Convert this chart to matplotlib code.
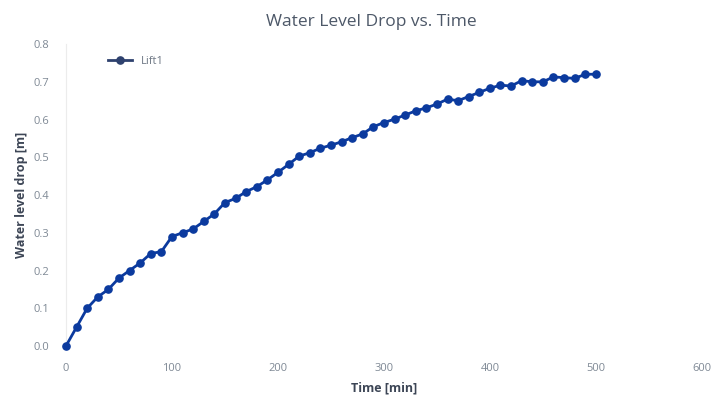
import numpy as np
import matplotlib.pyplot as plt

plt.rcParams['font.family'] = ['Open Sans', 'DejaVu Sans']

# time in minutes, water level drop in metres
time_min = list(range(0, 510, 10))
drop_m = [0.00, 0.05, 0.10, 0.13, 0.15, 0.18, 0.20, 0.22, 0.245, 0.25,
          0.29, 0.30, 0.31, 0.33, 0.35, 0.38, 0.391, 0.409, 0.422, 0.44,
          0.46, 0.481, 0.503, 0.512, 0.524, 0.532, 0.541, 0.552, 0.562, 0.581,
          0.592, 0.601, 0.612, 0.623, 0.631, 0.641, 0.654, 0.650, 0.661, 0.672,
          0.683, 0.691, 0.689, 0.703, 0.700, 0.700, 0.713, 0.711, 0.709, 0.720,
          0.720]
series_name = "Lift1"

fig = plt.figure(figsize=(7.14, 3.97), dpi=100)
ax = fig.add_axes([0.0924, 0.1285, 0.8906, 0.7605])

line, = ax.plot(time_min, drop_m, color='#0b3a9e', lw=2, marker='o', ms=5.2,
                label=series_name, clip_on=False, zorder=3)

ax.set_xlim(0, 600)
ax.set_ylim(0, 0.8)
ax.set_xticks(np.arange(0, 700, 100))
ax.set_yticks(np.arange(0, 0.81, 0.1))
ax.set_yticklabels([f"{v:.1f}" for v in np.arange(0, 0.81, 0.1)])

for s in ['top', 'right', 'bottom']:
    ax.spines[s].set_visible(False)
ax.spines['left'].set_color('#ececec')
ax.tick_params(length=0, colors='#7f8995', labelsize=8)
ax.tick_params(axis='x', pad=12)
ax.tick_params(axis='y', pad=12)

ax.set_xlabel("Time [min]", fontsize=9, fontweight='bold', color='#3d4656', labelpad=6)
ax.set_ylabel("Water level drop [m]", fontsize=9, fontweight='bold', color='#3d4656', labelpad=4)
fig.text(0.52, 0.945, "Water Level Drop vs. Time", ha='center', va='center',
         fontsize=12.5, color='#4d5868')

leg = ax.legend(loc='upper left', bbox_to_anchor=(0.05, 0.995), frameon=False,
                fontsize=8, labelcolor='#6f7885', handlelength=2.2)
for h in leg.legend_handles:
    h.set_color('#2e416e')

fig.savefig("out.png", dpi=100)
